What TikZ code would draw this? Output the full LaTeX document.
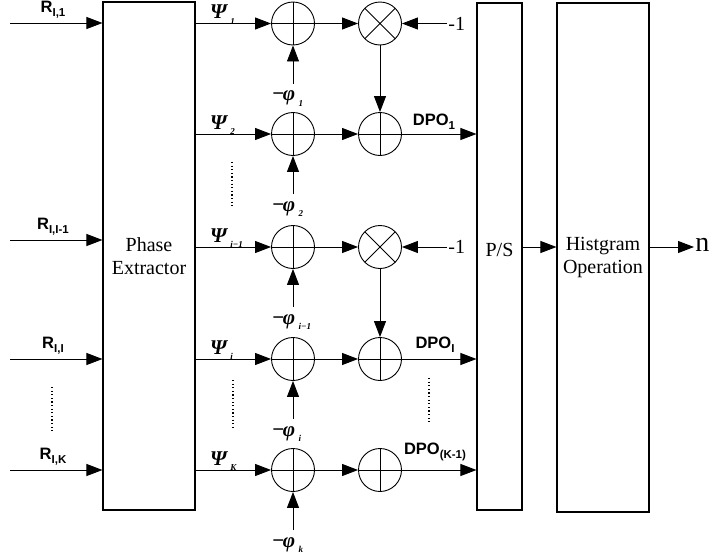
\documentclass[tikz,border=0pt]{standalone}
\usepackage{fontspec}
\setmainfont{Liberation Serif}
\setsansfont{Liberation Sans}
\usetikzlibrary{arrows.meta}

\newcommand{\lsub}[1]{\raisebox{-0.45ex}{\fontsize{11.5}{12}\selectfont #1}}
\newcommand{\gsub}[1]{\raisebox{-0.6ex}{\fontsize{9}{9}\selectfont\bfseries #1}}
\tikzset{every node/.append style={font=\fontsize{20}{23}\selectfont},
    blk/.style={draw, rectangle, line width=1.1pt, align=center, inner sep=0pt},
    sumnode/.style={draw, circle, minimum size=43pt, inner sep=0pt,
        path picture={\draw (path picture bounding box.north) -- (path picture bounding box.south)
            (path picture bounding box.west) -- (path picture bounding box.east);}},
    mulnode/.style={draw, circle, minimum size=43pt, inner sep=0pt,
        path picture={\draw (path picture bounding box.north west) -- (path picture bounding box.south east)
            (path picture bounding box.north east) -- (path picture bounding box.south west);}},
    sig/.style={-{Triangle[length=16pt,width=12pt]}},
    lbl/.style={font=\fontsize{16.5}{17}\selectfont\sffamily\bfseries, inner sep=1pt},
    greek/.style={font=\fontsize{21}{21}\selectfont\bfseries, inner sep=1pt},
    dots/.style={line width=1.2pt, dash pattern=on 1.2pt off 2.4pt}}

\begin{document}
\begin{tikzpicture}[x=1pt, y=-1pt, line width=0.9pt]
    \useasboundingbox (0,0) rectangle (713,560);

    % blocks
    \node[blk, minimum width=92pt, minimum height=508pt] (pe) at (149,256) {Phase\\Extractor};
    \node[blk, minimum width=45pt, minimum height=507pt] (ps) at (499.5,256.5) {};
    \node (pstxt) at (499.5,250) {P/S};
    \node[blk, minimum width=92pt, minimum height=509pt] (hg) at (603,257.5) {Histgram\\Operation};

    % inputs
    \foreach \n/\y/\s in {r1/23/{I,1}, r2/240/{I,I-1}, r3/359/{I,I}, r4/470/{I,K}} {
        \coordinate (\n) at (10,\y);
        \draw[sig] (\n) -- (\n -| pe.west);
        \node[lbl, anchor=south] (l\n) at (53,\y-3) {R\lsub{\s}};
    }
    \draw[dots] (52,387) -- (52,433);

    % adders and multipliers
    \node[sumnode] (a1) at (293,23.5) {};
    \node[sumnode] (a2) at (293,134) {};
    \node[sumnode] (a3) at (293,247) {};
    \node[sumnode] (a4) at (293,359) {};
    \node[sumnode] (a5) at (293,470) {};
    \node[mulnode] (m1) at (380,23.5) {};
    \node[sumnode] (b1) at (380,134) {};
    \node[mulnode] (m2) at (380,247) {};
    \node[sumnode] (b2) at (380,359) {};
    \node[sumnode] (b3) at (380,470) {};

    \foreach \a/\s in {a1/1, a2/2, a3/{\itshape i−1}, a4/\itshape i, a5/\itshape K} {
        \draw[sig] (pe.east |- \a) -- (\a);
        \path (pe.east |- \a) ++(13,-5) node[greek, anchor=base west] (psi\a)
            {\itshape Ψ\,\gsub{\s}};
    }
    \foreach \a/\y/\s in {a1/23.5/1, a2/134/2, a3/247/{\itshape i−1}, a4/359/\itshape i, a5/470/\itshape k} {
        \coordinate (f\a) at (293,\y+60);
        \draw[sig] (f\a) -- (\a);
        \node[greek, anchor=base west] (phi\a) at (271,\y+77)
            {−\kern-1.5pt\itshape φ\,\gsub{\s}};
    }
    \draw[dots] (232,162) -- (232,207);
    \draw[dots] (233,380) -- (233,428);

    \draw[sig] (a1) -- (m1);
    \draw[sig] (a2) -- (b1);
    \draw[sig] (a3) -- (m2);
    \draw[sig] (a4) -- (b2);
    \draw[sig] (a5) -- (b3);
    \draw[sig] (m1) -- (b1);
    \draw[sig] (m2) -- (b2);

    % the -1 inputs
    \node[anchor=west, inner sep=1pt] (n1) at (447,23.5) {-1};
    \node[anchor=west, inner sep=1pt] (n2) at (447,247) {-1};
    \draw[sig] (n1) -- (m1);
    \draw[sig] (n2) -- (m2);

    % to P/S
    \draw[sig] (b1) -- (b1 -| ps.west);
    \draw[sig] (b2) -- (b2 -| ps.west);
    \draw[sig] (b3) -- (b3 -| ps.west);
    \node[lbl] (d1) at (434,122) {DPO\lsub{1}};
    \node[lbl] (d2) at (435,345) {DPO\lsub{I}};
    \node[lbl] (d3) at (435,452) {DPO\lsub{(K-1)}};
    \draw[dots] (429,378) -- (429,422);

    % output
    \draw[sig] (ps.east |- m2) -- (hg.west |- m2);
    \node[anchor=west, inner sep=1pt, font=\fontsize{28}{28}\selectfont] (out) at (694,245) {n};
    \draw[sig] (hg.east |- m2) -- (out.west |- m2);
\end{tikzpicture}
\end{document}
